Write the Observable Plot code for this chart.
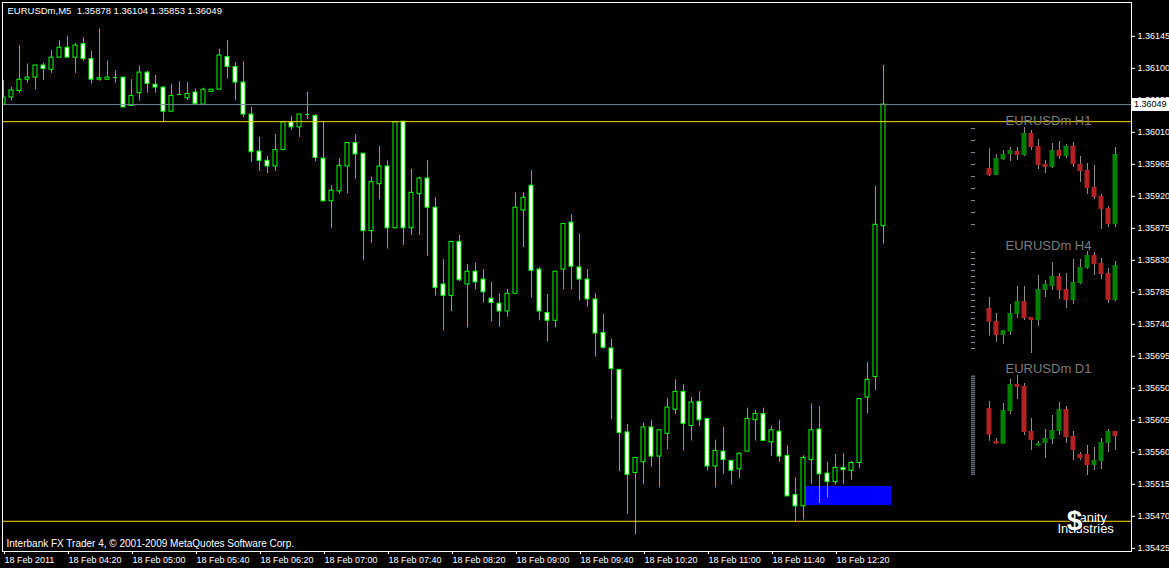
<!DOCTYPE html>
<html><head><meta charset="utf-8">
<script src="https://cdn.jsdelivr.net/npm/d3@7"></script>
<script src="https://cdn.jsdelivr.net/npm/@observablehq/plot@0.6"></script>
<style>
html,body{margin:0;padding:0;background:#000;overflow:hidden;}
#wrap{position:relative;width:1169px;height:568px;background:#000;}
#wrap svg{display:block;}
.panel{position:absolute;left:960px;}
</style></head><body><div id="wrap"></div>
<script>
// ---------- main chart data: EURUSDm M5, 18 Feb 2011, 03:40 .. 12:50 (bar index 0..110)
const open = [1.36049,1.36059,1.36068,1.36084,1.36087,1.36104,1.36098,1.36115,1.36129,1.36115,
1.36134,1.36113,1.36084,1.36084,1.36087,1.36087,1.36047,1.36065,1.36094,1.36077,
1.36073,1.36039,1.36063,1.36058,1.36066,1.36049,1.36067,1.36070,1.36116,1.36102,
1.36080,1.36035,1.35983,1.35970,1.35962,1.35985,1.36024,1.36017,1.36035,1.36033,
1.35973,1.35913,1.35927,1.35962,1.35995,1.35980,1.35871,1.35937,1.35962,1.35875,
1.36025,1.35875,1.35923,1.35945,1.35904,1.35796,1.35780,1.35856,1.35796,1.35814,
1.35803,1.35776,1.35769,1.35758,1.35783,1.35900,1.35935,1.35817,1.35756,1.35745,
1.35817,1.35883,1.35820,1.35803,1.35775,1.35728,1.35706,1.35676,1.35588,1.35531,
1.35546,1.35595,1.35554,1.35586,1.35620,1.35645,1.35597,1.35631,1.35607,1.35540,
1.35561,1.35548,1.35536,1.35561,1.35605,1.35614,1.35574,1.35589,1.35555,1.35500,
1.35484,1.35549,1.35592,1.35530,1.35518,1.35538,1.35534,1.35545,1.35637,1.35666,1.35878];
const high = [1.36083,1.36073,1.36132,1.36106,1.36104,1.36107,1.36125,1.36139,1.36145,1.36135,
1.36143,1.36124,1.36155,1.36110,1.36097,1.36087,1.36084,1.36103,1.36096,1.36090,
1.36074,1.36077,1.36081,1.36080,1.36071,1.36072,1.36070,1.36127,1.36139,1.36108,
1.36109,1.36045,1.36003,1.35976,1.36007,1.36025,1.36032,1.36035,1.36066,1.36035,
1.36025,1.35935,1.35973,1.35995,1.36007,1.35980,1.35947,1.35990,1.35970,1.36025,
1.36025,1.35958,1.35947,1.35970,1.35918,1.35831,1.35856,1.35865,1.35824,1.35826,
1.35817,1.35799,1.35783,1.35789,1.35925,1.35925,1.35956,1.35820,1.35782,1.35814,
1.35881,1.35894,1.35867,1.35817,1.35783,1.35754,1.35719,1.35676,1.35599,1.35552,
1.35601,1.35605,1.35591,1.35636,1.35662,1.35655,1.35637,1.35645,1.35607,1.35577,
1.35595,1.35548,1.35559,1.35622,1.35619,1.35622,1.35597,1.35605,1.35569,1.35524,
1.35555,1.35628,1.35624,1.35546,1.35557,1.35558,1.35547,1.35635,1.35686,1.35934,1.36104];
const low = [1.36049,1.36054,1.36065,1.36079,1.36070,1.36083,1.36093,1.36115,1.36115,1.36093,
1.36110,1.36078,1.36082,1.36084,1.36079,1.36045,1.36047,1.36054,1.36065,1.36065,
1.36024,1.36039,1.36063,1.36055,1.36050,1.36049,1.36067,1.36070,1.36085,1.36055,
1.36031,1.35968,1.35955,1.35952,1.35955,1.35985,1.36013,1.36003,1.36028,1.35969,
1.35912,1.35875,1.35923,1.35924,1.35944,1.35830,1.35854,1.35915,1.35846,1.35875,
1.35851,1.35865,1.35865,1.35836,1.35780,1.35731,1.35758,1.35800,1.35735,1.35789,
1.35770,1.35744,1.35736,1.35750,1.35783,1.35848,1.35777,1.35745,1.35715,1.35735,
1.35789,1.35789,1.35773,1.35764,1.35694,1.35705,1.35606,1.35533,1.35473,1.35444,
1.35515,1.35539,1.35510,1.35564,1.35613,1.35562,1.35576,1.35596,1.35534,1.35510,
1.35529,1.35514,1.35523,1.35561,1.35576,1.35576,1.35554,1.35546,1.35498,1.35462,
1.35465,1.35515,1.35488,1.35496,1.35514,1.35515,1.35521,1.35537,1.35614,1.35647,1.35853];
const close = [1.36059,1.36069,1.36084,1.36087,1.36104,1.36099,1.36115,1.36129,1.36115,1.36132,
1.36113,1.36084,1.36086,1.36087,1.36087,1.36045,1.36061,1.36094,1.36078,1.36073,
1.36039,1.36061,1.36063,1.36064,1.36050,1.36070,1.36070,1.36118,1.36102,1.36080,
1.36035,1.35982,1.35970,1.35962,1.35985,1.36024,1.36017,1.36035,1.36035,1.35974,
1.35913,1.35928,1.35963,1.35995,1.35979,1.35871,1.35940,1.35962,1.35875,1.36024,
1.35875,1.35925,1.35945,1.35904,1.35791,1.35780,1.35856,1.35802,1.35814,1.35799,
1.35785,1.35770,1.35758,1.35783,1.35904,1.35918,1.35815,1.35758,1.35745,1.35814,
1.35881,1.35821,1.35803,1.35775,1.35727,1.35707,1.35677,1.35587,1.35528,1.35552,
1.35595,1.35554,1.35591,1.35623,1.35645,1.35600,1.35630,1.35605,1.35540,1.35562,
1.35549,1.35534,1.35558,1.35607,1.35614,1.35576,1.35591,1.35554,1.35498,1.35484,
1.35552,1.35591,1.35529,1.35518,1.35538,1.35535,1.35545,1.35635,1.35662,1.35880,1.36049];

const symbolLabel = "EURUSDm,M5";
const timeTickBars = [0, 8, 16, 24, 32, 40, 48, 56, 64, 72, 80, 88, 96, 104];
const timeTickLabels = ["18 Feb 2011","18 Feb 04:20","18 Feb 05:00","18 Feb 05:40","18 Feb 06:20",
  "18 Feb 07:00","18 Feb 07:40","18 Feb 08:20","18 Feb 09:00","18 Feb 09:40","18 Feb 10:20",
  "18 Feb 11:00","18 Feb 11:40","18 Feb 12:20"];
const priceTicks = [1.36145,1.36100,1.36055,1.36010,1.35965,1.35920,1.35875,1.35830,1.35785,
  1.35740,1.35695,1.35650,1.35605,1.35560,1.35515,1.35470,1.35425];
const levelLines = [1.36025, 1.35463];        // horizontal line objects
const zoneBars = [100.3, 111.0];              // rectangle object, time span (bar index)
const zonePrices = [1.35485, 1.35512];        // rectangle object, price span
const footerText = "Interbank FX Trader 4, \u00a9 2001-2009 MetaQuotes Software Corp.";

// ---------- mini charts (19 bars each)
const h1Open  = [1.35939,1.35884,1.36007,1.36049,1.36073,1.36041,1.36214,1.36112,1.35971,1.35947,1.36080,1.36033,1.36112,1.35971,1.35924,1.35790,1.35720,1.35625,1.35500];
const h1High  = [1.36094,1.36047,1.36080,1.36104,1.36104,1.36261,1.36237,1.36167,1.36002,1.36135,1.36151,1.36127,1.36143,1.36033,1.35978,1.35963,1.35735,1.35641,1.36104];
const h1Low   = [1.35876,1.35884,1.36002,1.35994,1.36002,1.36033,1.36080,1.35931,1.35900,1.35939,1.36010,1.36018,1.35947,1.35829,1.35735,1.35696,1.35461,1.35476,1.35476];
const h1Close = [1.35884,1.36018,1.36049,1.36080,1.36041,1.36214,1.36104,1.35963,1.35947,1.36080,1.36033,1.36112,1.35971,1.35916,1.35782,1.35712,1.35618,1.35500,1.36049];

const h4Open  = [1.35375,1.35171,1.34951,1.35003,1.35280,1.35484,1.35233,1.35186,1.35657,1.35720,1.35876,1.35673,1.35500,1.35767,1.36002,1.36206,1.36080,1.35924,1.35500];
const h4High  = [1.35547,1.35296,1.35029,1.35437,1.35720,1.35720,1.35233,1.35892,1.35814,1.36096,1.35924,1.35924,1.36143,1.36143,1.36269,1.36253,1.36159,1.36002,1.36112];
const h4Low   = [1.34940,1.34846,1.34810,1.34951,1.35218,1.35186,1.34669,1.35092,1.35547,1.35657,1.35516,1.35375,1.35437,1.35751,1.35986,1.35892,1.35829,1.35453,1.35484];
const h4Close = [1.35160,1.34951,1.35029,1.35296,1.35484,1.35218,1.35186,1.35673,1.35751,1.35876,1.35657,1.35500,1.35782,1.36018,1.36206,1.36065,1.35908,1.35500,1.36049];

const d1Open  = [1.37367,1.35814,1.35687,1.37226,1.38496,1.38402,1.36284,1.35593,1.35720,1.35908,1.36284,1.37320,1.36049,1.35202,1.35202,1.34684,1.34873,1.35720,1.36284];
const d1High  = [1.37696,1.35955,1.37602,1.38731,1.38920,1.38543,1.36896,1.35814,1.36378,1.37037,1.37649,1.37461,1.36284,1.35296,1.35625,1.35531,1.35955,1.36378,1.36284];
const d1Low   = [1.35828,1.35687,1.35687,1.37084,1.37790,1.36096,1.35390,1.35593,1.35014,1.35673,1.36096,1.35720,1.34920,1.34920,1.34214,1.34449,1.34496,1.35296,1.35390];
const d1Close = [1.36110,1.35687,1.37273,1.38496,1.38369,1.36237,1.35861,1.35720,1.35955,1.36331,1.37320,1.36002,1.35390,1.35014,1.34684,1.34920,1.35767,1.36284,1.36049];

const panelTickStep = 0.000941;

// ---------- build
const FONT = "'Liberation Sans', Arial, sans-serif";
const LIME = "#00ff00";
const last = close.length - 1;
const bars = open.map((o, i) => ({i, open: o, high: high[i], low: low[i], close: close[i]}));
const zone = [{x1: zoneBars[0], x2: zoneBars[1], y1: zonePrices[0], y2: zonePrices[1]}];
const header = `${symbolLabel}\u00a0\u00a0${open[last].toFixed(5)} ${high[last].toFixed(5)} ${low[last].toFixed(5)} ${close[last].toFixed(5)}`;
const bw = 0.25;

function bidBox(index, scales, values, dimensions) {
  const y = scales.y(close[last]);
  const x0 = dimensions.width - dimensions.marginRight + 1;
  const g = d3.create("svg:g");
  g.append("rect").attr("x", x0).attr("y", Math.round(y) - 6).attr("width", dimensions.width - x0).attr("height", 13).attr("fill", "white");
  g.append("text").attr("x", x0 + 2).attr("y", y).attr("dy", "0.34em").attr("text-anchor", "start")
    .attr("font-size", 9).attr("fill", "black").attr("font-family", FONT).text(close[last].toFixed(5));
  return g.node();
}

const main = Plot.plot({
  width: 1169, height: 568,
  marginLeft: 2, marginRight: 38, marginTop: 2, marginBottom: 17,
  style: {background: "black", color: "white", fontFamily: FONT, fontSize: "9px"},
  x: {type: "linear", domain: [-0.125, 141], axis: null},
  y: {domain: [1.354205, 1.361926], axis: null},
  marks: [
    Plot.rect(zone, {x1: "x1", x2: "x2", y1: "y1", y2: "y2", fill: "#0000ff", clip: true}),
    Plot.ruleX(bars, {x: "i", y1: "low", y2: "high", stroke: LIME, clip: true}),
    Plot.rect(bars, {filter: d => d.close < d.open, x1: d => d.i - bw, x2: d => d.i + bw, y1: "open", y2: "close", fill: "white", stroke: LIME, clip: true}),
    Plot.rect(bars, {filter: d => d.close > d.open, x1: d => d.i - bw, x2: d => d.i + bw, y1: "open", y2: "close", fill: "black", stroke: LIME, clip: true}),
    Plot.ruleY(bars, {filter: d => d.close === d.open, y: "open", x1: d => d.i - bw, x2: d => d.i + bw, stroke: LIME, clip: true}),
    Plot.ruleY(levelLines, {stroke: "#ffd700"}),
    Plot.ruleY([close[last]], {stroke: "#778899"}),
    Plot.frame({stroke: "white"}),
    Plot.axisY(priceTicks, {anchor: "right", tickSize: 3, tickPadding: 3, tickFormat: d => d.toFixed(5), label: null, fontSize: 9}),
    Plot.axisX(timeTickBars, {anchor: "bottom", tickSize: 3, tickPadding: 2, tickFormat: d => timeTickLabels[timeTickBars.indexOf(d)], textAnchor: "start", dx: 1, label: null, fontSize: 9}),
    bidBox,
    Plot.text([header], {frameAnchor: "top-left", textAnchor: "start", lineAnchor: "middle", dx: 5, dy: 8, fill: "white", fontSize: 9.5}),
    Plot.text([footerText], {frameAnchor: "bottom-left", textAnchor: "start", lineAnchor: "middle", dx: 4, dy: -8, fill: "white", fontSize: 10}),
    Plot.text(["Industries"], {frameAnchor: "bottom-right", textAnchor: "start", lineAnchor: "middle", dx: -74, dy: -23, fill: "white", fontSize: 13}),
    Plot.text(["anity"], {frameAnchor: "bottom-right", textAnchor: "start", lineAnchor: "middle", dx: -52, dy: -34, fill: "white", fontSize: 13}),
    Plot.text(["$"], {frameAnchor: "bottom-right", textAnchor: "middle", lineAnchor: "middle", dx: -57, dy: -30, fill: "white", stroke: "black", strokeWidth: 2, paintOrder: "stroke", fontSize: 28, fontWeight: "bold"})
  ]
});
document.getElementById("wrap").appendChild(main);

function panel(label, O, H, L, C, tickTop, tickCount, domain, top, h, labelDy) {
  const d = O.map((o, k) => ({k, open: o, high: H[k], low: L[k], close: C[k]}));
  const ticks = d3.range(tickCount).map(k => tickTop - k * panelTickStep);
  const w = 2.5 / 7;
  const p = Plot.plot({
    width: 170, height: h, marginLeft: 15, marginRight: 0, marginTop: 0, marginBottom: 0,
    style: {background: "none", fontFamily: FONT, overflow: "visible"},
    x: {type: "linear", domain: [-2, 20.142857], axis: null},
    y: {domain, axis: null},
    marks: [
      Plot.axisY(ticks, {anchor: "left", tickSize: 4, tickFormat: () => "", stroke: "#8795a3", label: null}),
      Plot.ruleX(d, {x: "k", y1: "low", y2: "high", stroke: "#8c8c8c"}),
      Plot.rect(d, {filter: e => e.close < e.open, x1: e => e.k - w, x2: e => e.k + w, y1: "open", y2: "close", fill: "#b22222"}),
      Plot.rect(d, {filter: e => e.close >= e.open, x1: e => e.k - w, x2: e => e.k + w, y1: "open", y2: "close", fill: "#008000"}),
      Plot.text([label], {frameAnchor: "top", dx: -4.5, dy: labelDy, lineAnchor: "middle", fill: "#7a7a7a", fontSize: 13})
    ]
  });
  p.classList.add("panel");
  p.style.top = top + "px";
  document.getElementById("wrap").appendChild(p);
}
panel("EURUSDm H1", h1Open, h1High, h1Low, h1Close, 1.36252, 9, [1.354137, 1.363941], 110, 125, 10.5);
panel("EURUSDm H4", h4Open, h4High, h4Low, h4Close, 1.36252, 17, [1.345588, 1.365039], 236, 124, 9);
panel("EURUSDm D1", d1Open, d1High, d1Low, d1Close, 1.38887, 50, [1.339784, 1.395784], 361, 119, 7.5);
</script></body></html>
